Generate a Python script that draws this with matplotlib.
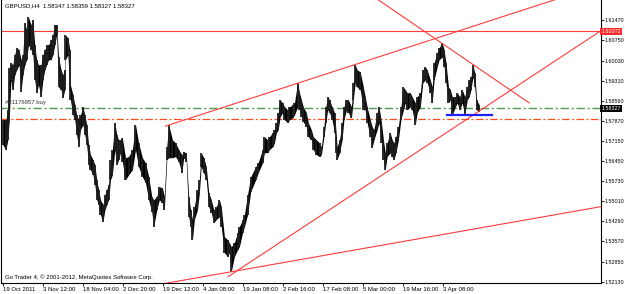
import matplotlib
matplotlib.use("Agg")
import matplotlib.pyplot as plt

# GBPUSD H4 price envelope (bar number, high, low)
bar_no = [0, 5, 8, 10, 13, 16, 19, 22, 26, 29, 32, 35, 38, 41, 45, 48, 51, 54, 57, 61,
          64, 67, 70, 73, 77, 80, 83, 86, 89, 93, 96, 99, 100, 104, 107, 108, 112, 115, 118, 121,
          124, 128, 131, 134, 137, 140, 144, 147, 150, 153, 156, 160, 163, 166, 169, 172, 175, 179, 182, 185,
          188, 191, 196, 201, 207, 212, 217, 223, 228, 233, 238, 241, 246, 250, 255, 258, 262, 265, 271, 276,
          281, 286, 289, 293, 297, 300, 303, 306, 311, 314, 317, 321, 325, 329, 333, 337, 341, 346, 349, 354,
          359, 362, 365, 370, 375, 378, 383, 386, 391, 396, 404, 408, 415, 418, 423, 426, 431, 434, 437, 440,
          443, 447, 450, 455, 458, 463, 466, 471, 474, 477, 480, 485, 488, 493, 496, 501, 506, 509, 513, 516,
          519, 522, 526, 530, 533, 534, 538, 542, 545, 549, 552, 557, 560, 563, 566, 571, 576, 579, 582, 587,
          590, 593, 598, 601, 605, 608, 611, 614, 619, 622, 625, 628, 632, 636, 640, 643, 646, 651, 654, 659,
          662, 667, 671, 675, 678, 683, 686, 689, 694, 697, 702, 705, 708, 712, 715, 718, 723, 726, 730, 734,
          738, 742, 745, 748, 751, 754, 757, 761]
bar_high = [1.5792, 1.5792, 1.5827, 1.5977, 1.5995, 1.5988, 1.6024, 1.6049, 1.6042, 1.6006,
            1.6024, 1.6138, 1.6113, 1.6159, 1.6131, 1.6149, 1.6059, 1.6006, 1.5988, 1.5988,
            1.6024, 1.6042, 1.6059, 1.6059, 1.6077, 1.6095, 1.6131, 1.6131, 1.6016, 1.5970,
            1.5952, 1.5970, 1.6095, 1.6084, 1.6042, 1.5917, 1.5881, 1.5845, 1.5809, 1.5792,
            1.5809, 1.5838, 1.5809, 1.5774, 1.5702, 1.5667, 1.5649, 1.5631, 1.5577, 1.5542,
            1.5506, 1.5488, 1.5524, 1.5542, 1.5560, 1.5649, 1.5685, 1.5781, 1.5738, 1.5720,
            1.5720, 1.5727, 1.5656, 1.5660, 1.5685, 1.5774, 1.5709, 1.5656, 1.5638, 1.5588,
            1.5517, 1.5506, 1.5517, 1.5552, 1.5549, 1.5517, 1.5695, 1.5774, 1.5720, 1.5709,
            1.5685, 1.5667, 1.5677, 1.5674, 1.5517, 1.5470, 1.5435, 1.5481, 1.5542, 1.5577,
            1.5674, 1.5656, 1.5624, 1.5531, 1.5506, 1.5470, 1.5481, 1.5506, 1.5481, 1.5374,
            1.5363, 1.5352, 1.5338, 1.5352, 1.5388, 1.5410, 1.5435, 1.5452, 1.5524, 1.5588,
            1.5624, 1.5638, 1.5685, 1.5731, 1.5720, 1.5731, 1.5745, 1.5756, 1.5781, 1.5817,
            1.5863, 1.5852, 1.5838, 1.5827, 1.5838, 1.5845, 1.5852, 1.5924, 1.5888, 1.5863,
            1.5838, 1.5817, 1.5781, 1.5756, 1.5731, 1.5720, 1.5709, 1.5695, 1.5767, 1.5838,
            1.5874, 1.5863, 1.5838, 1.5817, 1.5731, 1.5695, 1.5720, 1.5781, 1.5838, 1.5863,
            1.5863, 1.5838, 1.5924, 1.5988, 1.5970, 1.5963, 1.5909, 1.5874, 1.5838, 1.5792,
            1.5767, 1.5756, 1.5817, 1.5838, 1.5781, 1.5720, 1.5674, 1.5709, 1.5745, 1.5720,
            1.5709, 1.5731, 1.5767, 1.5838, 1.5909, 1.5899, 1.5888, 1.5888, 1.5874, 1.5852,
            1.5874, 1.5888, 1.5970, 1.5981, 1.5970, 1.5934, 1.5909, 1.5995, 1.6031, 1.6049,
            1.6066, 1.6042, 1.5995, 1.5909, 1.5899, 1.5874, 1.5874, 1.5888, 1.5874, 1.5899,
            1.5874, 1.5909, 1.5934, 1.5945, 1.5988, 1.5959, 1.5863, 1.5845]
bar_low = [1.5702, 1.5685, 1.5720, 1.5781, 1.5934, 1.5899, 1.5952, 1.5970, 1.5988, 1.5892,
           1.5952, 1.5988, 1.6006, 1.6059, 1.6042, 1.6024, 1.5934, 1.5888, 1.5917, 1.5874,
           1.5934, 1.5970, 1.5988, 1.6006, 1.6006, 1.6024, 1.6059, 1.6095, 1.5909, 1.5899,
           1.5870, 1.5899, 1.6006, 1.6024, 1.5899, 1.5863, 1.5809, 1.5792, 1.5738, 1.5695,
           1.5756, 1.5774, 1.5738, 1.5702, 1.5631, 1.5613, 1.5595, 1.5560, 1.5506, 1.5488,
           1.5452, 1.5427, 1.5470, 1.5488, 1.5506, 1.5577, 1.5595, 1.5685, 1.5631, 1.5649,
           1.5674, 1.5642, 1.5577, 1.5595, 1.5613, 1.5685, 1.5624, 1.5588, 1.5567, 1.5506,
           1.5463, 1.5410, 1.5470, 1.5506, 1.5495, 1.5470, 1.5649, 1.5656, 1.5656, 1.5660,
           1.5642, 1.5602, 1.5656, 1.5642, 1.5445, 1.5410, 1.5363, 1.5435, 1.5470, 1.5531,
           1.5624, 1.5602, 1.5577, 1.5481, 1.5460, 1.5424, 1.5435, 1.5445, 1.5410, 1.5317,
           1.5303, 1.5317, 1.5249, 1.5303, 1.5327, 1.5338, 1.5388, 1.5410, 1.5452, 1.5535,
           1.5577, 1.5602, 1.5638, 1.5674, 1.5674, 1.5685, 1.5695, 1.5709, 1.5745, 1.5756,
           1.5802, 1.5817, 1.5792, 1.5781, 1.5792, 1.5799, 1.5809, 1.5838, 1.5827, 1.5802,
           1.5784, 1.5767, 1.5731, 1.5720, 1.5685, 1.5667, 1.5660, 1.5667, 1.5731, 1.5781,
           1.5827, 1.5817, 1.5792, 1.5745, 1.5674, 1.5649, 1.5674, 1.5720, 1.5792, 1.5827,
           1.5817, 1.5799, 1.5863, 1.5924, 1.5909, 1.5899, 1.5827, 1.5827, 1.5781, 1.5731,
           1.5692, 1.5720, 1.5756, 1.5781, 1.5709, 1.5649, 1.5613, 1.5660, 1.5674, 1.5660,
           1.5649, 1.5674, 1.5720, 1.5792, 1.5827, 1.5852, 1.5827, 1.5838, 1.5827, 1.5774,
           1.5817, 1.5838, 1.5924, 1.5934, 1.5924, 1.5888, 1.5852, 1.5934, 1.5981, 1.6006,
           1.6016, 1.5981, 1.5924, 1.5852, 1.5863, 1.5809, 1.5838, 1.5852, 1.5827, 1.5852,
           1.5809, 1.5863, 1.5874, 1.5899, 1.5945, 1.5909, 1.5827, 1.5820]

# x axis: one tick every 64 H4 bars
tick_bars = [0, 64, 128, 192, 256, 320, 384, 448, 512, 576, 640, 704]
tick_labels = ["19 Oct 2011", "3 Nov 12:00", "18 Nov 04:00", "2 Dec 20:00", "19 Dec 12:00",
               "4 Jan 08:00", "19 Jan 08:00", "2 Feb 16:00", "17 Feb 08:00", "5 Mar 00:00",
               "19 Mar 16:00", "3 Apr 08:00"]
price_ticks = [1.61470, 1.60750, 1.60030, 1.59310, 1.58590, 1.57870, 1.57150,
               1.56450, 1.55730, 1.55010, 1.54290, 1.53570, 1.52850, 1.52130]

# objects drawn on the chart
resistance = 1.61072
last_price = 1.58327
buy_level = 1.5835
stop_level = 1.5795
upper_channel = [(260, 1.5769), (563, 1.5989)]
lower_trend = [(360, 1.5231), (955, 1.6109)]
bottom_trend = [(257, 1.5206), (955, 1.5481)]
falling_line = [(600, 1.6220), (841, 1.5852)]
support_seg = [(710, 1.5809), (782, 1.5809)]

XMIN, XMAX = -3.2, 955.4
YMIN, YMAX = 1.52084, 1.62196
font = "Liberation Sans"
fs = 4.3
fs_y = 3.9

fig = plt.figure(figsize=(6.25, 2.94), dpi=100)
ax = fig.add_axes([0.8 / 625, 11 / 294, 600 / 625, 283 / 294])
ax.set_xlim(XMIN, XMAX)
ax.set_ylim(YMIN, YMAX)


def ray(p0, p1, x_end=XMAX):
    (x0, y0), (x1, y1) = p0, p1
    k = (y1 - y0) / (x1 - x0)
    return [x0, x_end], [y0, y0 + k * (x_end - x0)]


red = "#ff3b3b"
ax.axhline(resistance, color=red, lw=0.8, zorder=1)
ax.axhline(buy_level, color="#4f9a4f", lw=1.0, ls=(0, (6, 2, 1.5, 2)), zorder=1)
ax.axhline(stop_level, color="#ff4c1a", lw=0.9, ls=(0, (6, 2, 1.5, 2)), zorder=1)
for line in (upper_channel, lower_trend, bottom_trend):
    xs, ys = ray(line[0], line[1])
    ax.plot(xs, ys, color=red, lw=0.8, zorder=3)
ax.plot([p[0] for p in falling_line], [p[1] for p in falling_line], color=red, lw=0.8, zorder=3)
ax.plot([p[0] for p in support_seg], [p[1] for p in support_seg], color="#2020ff", lw=1.6, zorder=3)

# price bars
ax.fill_between(bar_no, bar_low, bar_high, color="black", lw=0, zorder=2)
ax.vlines(bar_no, bar_low, bar_high, color="#202020", lw=1.3, zorder=2)

ax.text(3, 1.6200, "GBPUSD,H4  1.58347 1.58359 1.58327 1.58327", fontsize=fs,
        family=font, va="center", ha="left")
ax.text(3, 1.5853, "#21176957 buy", fontsize=fs, family=font, va="center", ha="left", color="#333333")
ax.text(3, 1.5229, "Go Trader 4, \u00a9 2001-2012, MetaQuotes Software Corp.", fontsize=fs,
        family=font, va="center", ha="left")

# axes styling like the terminal
ax.spines["top"].set_visible(False)
for s in ("left", "right", "bottom"):
    ax.spines[s].set_linewidth(0.8)
ax.yaxis.tick_right()
ax.set_yticks(price_ticks)
ax.set_yticklabels([f"{v:.5f}" for v in price_ticks], fontsize=fs_y, family=font)
ax.tick_params(axis="y", length=2, width=0.6, pad=0.6)
ax.set_xticks(tick_bars)
ax.set_xticklabels(tick_labels, fontsize=fs, family=font)
for lab in ax.get_xticklabels():
    lab.set_horizontalalignment("left")
ax.tick_params(axis="x", length=2.5, width=0.6, pad=0.5)

ax.text(1.001, resistance, "1.61072", transform=ax.get_yaxis_transform(), fontsize=fs_y,
        family=font, color="white", va="center", ha="left",
        bbox=dict(boxstyle="square,pad=0.2", fc="#ff2a2a", ec="none"))
ax.text(1.001, last_price, "1.58327", transform=ax.get_yaxis_transform(), fontsize=fs_y,
        family=font, color="white", va="center", ha="left",
        bbox=dict(boxstyle="square,pad=0.2", fc="black", ec="none"))

fig.savefig("out.png", dpi=100)
